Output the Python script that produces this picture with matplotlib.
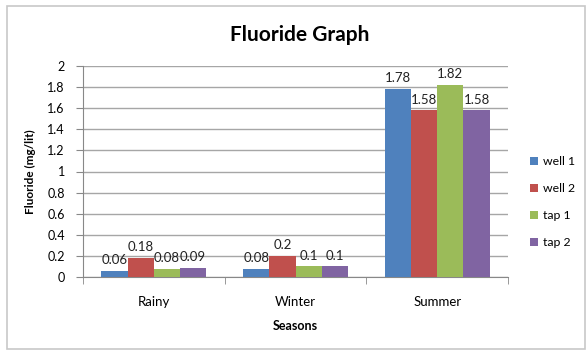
import matplotlib
matplotlib.use("Agg")
import matplotlib.pyplot as plt
from matplotlib.patches import Rectangle
import numpy as np

seasons = ["Rainy", "Winter", "Summer"]
series_names = ["well 1", "well 2", "tap 1", "tap 2"]
well1 = [0.06, 0.08, 1.78]
well2 = [0.18, 0.2, 1.58]
tap1 = [0.08, 0.1, 1.82]
tap2 = [0.09, 0.1, 1.58]
y_ticks = [0, 0.2, 0.4, 0.6, 0.8, 1, 1.2, 1.4, 1.6, 1.8, 2]
y_tick_labels = ["0", "0.2", "0.4", "0.6", "0.8", "1", "1.2", "1.4", "1.6", "1.8", "2"]

colors = ["#4F81BD", "#C0504D", "#9BBB59", "#8064A2"]
plt.rcParams["font.family"] = ["Lato", "DejaVu Sans"]

W, H = 586, 352
fig = plt.figure(figsize=(W / 100, H / 100), dpi=100)
fig.patch.set_facecolor("white")

# outer chart frame
fig.add_artist(Rectangle((7 / W, 3 / H), 578 / W, 343 / H, transform=fig.transFigure,
                         fill=False, edgecolor="#C8C8C8", linewidth=1.2))

ax = fig.add_axes([83 / W, 1 - 277 / H, (508 - 83) / W, (277 - 66) / H])

x = np.arange(len(seasons))
n = len(series_names)
group_w = 1 / 1.35
bw = group_w / n
data = [well1, well2, tap1, tap2]
for i, (name, vals, c) in enumerate(zip(series_names, data, colors)):
    pos = x - group_w / 2 + bw * (i + 0.5)
    ax.bar(pos, vals, width=bw, color=c, label=name, zorder=3)
    for p, v in zip(pos, vals):
        ax.text(p, v + 0.045, f"{v:g}", ha="center", va="bottom", fontsize=9.5,
                color="#222222", zorder=4)

ax.set_xlim(-0.5, len(seasons) - 0.5)
ax.set_ylim(0, 2)
ax.set_yticks(y_ticks)
ax.set_yticklabels(y_tick_labels, fontsize=9)
ax.yaxis.grid(True, color="#A6A6A6", linewidth=1.0, zorder=0)
ax.set_axisbelow(True)

ax.set_xticks(x)
ax.set_xticklabels(seasons, fontsize=9.5)
ax.tick_params(axis="x", length=0, pad=14)
ax.set_xticks(np.arange(-0.5, len(seasons)), minor=True)
ax.tick_params(axis="x", which="minor", length=5, color="#888888")
ax.tick_params(axis="y", length=5, color="#888888", pad=8)

for s in ["top", "right"]:
    ax.spines[s].set_visible(False)
for s in ["left", "bottom"]:
    ax.spines[s].set_color("#888888")

ax.set_xlabel("Seasons", fontsize=9, fontweight="bold", labelpad=8)
ax.set_ylabel("Fluoride (mg/lit)", fontsize=8.5, fontweight="bold", labelpad=8)

fig.text(0.512, 1 - 35 / H, "Fluoride Graph", ha="center", va="center",
         fontsize=15, fontweight="bold")

ax.legend(loc="center left", bbox_to_anchor=(1.027, 0.355), frameon=False,
          fontsize=8.8, handlelength=0.6, handleheight=0.6, handletextpad=0.4,
          labelspacing=1.3)

fig.savefig("out.png", dpi=100)
